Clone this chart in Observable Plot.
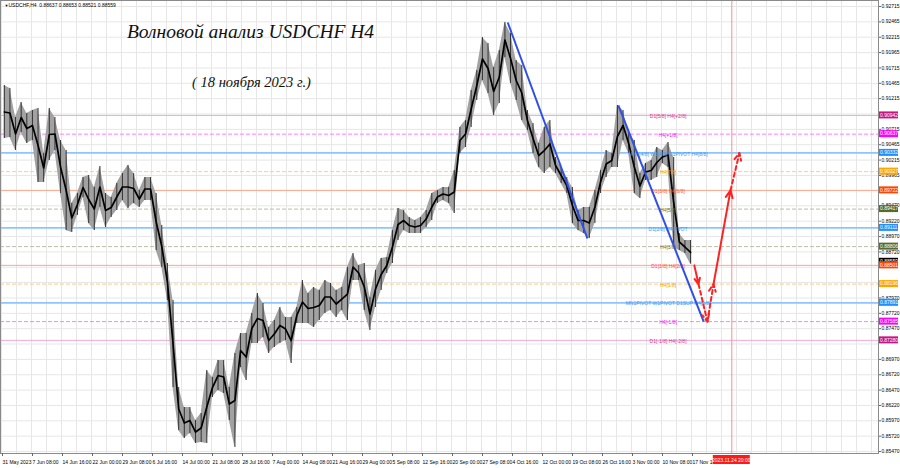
<!DOCTYPE html>
<html><head><meta charset="utf-8">
<script src="https://cdn.jsdelivr.net/npm/d3@7"></script>
<script src="https://cdn.jsdelivr.net/npm/@observablehq/plot@0.6"></script>
<style>body{margin:0;background:#fff}#chart svg{display:block}</style>
</head><body><div id="chart"></div>
<script>
// ---- daily high / low of USDCHF H4 (one entry per trading day from 31 May 2023) ----
const dayHigh = [
0.91429,0.91380,0.90908,0.91152,0.90973,0.91022,0.91055,0.90322,0.91055,0.90908,
0.90534,0.90371,0.89508,0.89671,0.89931,0.89964,0.89769,0.90110,0.89671,0.89606,
0.89834,0.89996,0.90127,0.89996,0.89720,0.89931,0.89931,0.89671,0.89150,0.88531,
0.87929,0.86512,0.86187,0.86187,0.85975,0.86089,0.86789,0.86675,0.86952,0.86952,
0.86512,0.87066,0.87391,0.87391,0.87717,0.88043,0.87880,0.87489,0.87603,0.87815,
0.87652,0.87652,0.87815,0.88254,0.88043,0.88140,0.88092,0.88254,0.88206,0.88092,
0.88140,0.88466,0.88694,0.88499,0.88531,0.87978,0.88417,0.88613,0.88629,0.89068,
0.89427,0.89394,0.89280,0.89231,0.89280,0.89394,0.89671,0.89720,0.89769,0.89769,
0.90045,0.90745,0.90859,0.91348,0.91673,0.92211,0.92113,0.91722,0.91999,0.92455,
0.92276,0.91836,0.91755,0.91022,0.90810,0.90485,0.90745,0.90859,0.90257,0.90094,
0.89931,0.89769,0.89394,0.89443,0.89443,0.89720,0.90045,0.90371,0.90322,0.91104,
0.91022,0.90648,0.90534,0.89996,0.90159,0.90208,0.90420,0.90371,0.90501,0.90257,
0.89020,0.88906,0.88906];
const dayLow = [
0.90566,0.90583,0.90371,0.90664,0.90485,0.90534,0.89850,0.89850,0.90208,0.90371,
0.89671,0.89068,0.89036,0.89313,0.89606,0.89182,0.89068,0.89443,0.89117,0.89280,
0.89394,0.89557,0.89427,0.89508,0.89443,0.89557,0.89557,0.88743,0.88466,0.87929,
0.86512,0.85812,0.85682,0.85763,0.85601,0.85617,0.85601,0.86349,0.86463,0.86415,
0.85975,0.85535,0.86838,0.86626,0.87229,0.87229,0.87326,0.87066,0.87163,0.87229,
0.87277,0.86903,0.87554,0.87554,0.87554,0.87489,0.87603,0.87717,0.87766,0.87652,
0.87766,0.87603,0.88254,0.88254,0.87766,0.87440,0.87815,0.88092,0.88368,0.88531,
0.88906,0.89068,0.89020,0.89020,0.89020,0.89117,0.89231,0.89508,0.89557,0.89508,
0.89345,0.90322,0.90420,0.90745,0.91185,0.91511,0.91299,0.90941,0.91136,0.91885,
0.91462,0.91185,0.90859,0.90697,0.90322,0.90094,0.89996,0.90094,0.89996,0.89834,
0.89671,0.89182,0.89068,0.89020,0.88938,0.89182,0.89671,0.89931,0.90094,0.90094,
0.90534,0.90322,0.89671,0.89589,0.89882,0.89882,0.89931,0.90159,0.90094,0.88792,
0.88743,0.88694,0.88521];
const barsPerDay = 6;

// ---- time axis (H4 bars) ----
const dateLabels = ["31 May 2023","7 Jun 08:00","14 Jun 16:00","22 Jun 00:00","29 Jun 08:00","6 Jul 16:00",
"14 Jul 00:00","21 Jul 08:00","28 Jul 16:00","7 Aug 00:00","14 Aug 08:00","21 Aug 16:00","29 Aug 00:00",
"5 Sep 08:00","12 Sep 16:00","20 Sep 00:00","27 Sep 08:00","4 Oct 16:00","12 Oct 00:00","19 Oct 08:00",
"26 Oct 16:00","3 Nov 00:00","10 Nov 08:00","17 Nov 16:00"];
const barsPerLabel = 32;
const cursorBar = 779;
const cursorLabel = "2023.11.24 20:00";

// ---- price axis ----
const priceTicks = [0.92715,0.92465,0.92215,0.91965,0.91715,0.91465,0.91215,0.90965,0.90715,0.90465,
0.90215,0.89965,0.89720,0.89470,0.89220,0.88970,0.88720,0.88470,0.88220,0.87970,0.87720,0.87470,
0.87220,0.86970,0.86720,0.86470,0.86220,0.85970,0.85720,0.85470];
const coveredTicks = [0.90965, 0.89720, 0.88470, 0.88220, 0.87220];   // hidden behind price boxes
const lastPrice = 0.88559;
const headerText = "USDCHF,H4  0.88637 0.88653 0.88521 0.88559";

// ---- Murrey / pivot levels ----
const levelPrices = [0.90942,0.90637,0.90332,0.90027,0.89722,0.89417,0.89111,0.88806,0.88501,0.88196,0.87891,0.87585,0.87280];
const levelNames = ["D1[5/8] H4[+2/8]","H4[+1/8]","MN1[4/8] W1[4/8] D1PIVOT H4[8/8]","H4[7/8]","D1[3/8] H4[6/8]",
"H4[5/8]","D1[2/8] H4PIVOT","H4[3/8]","D1[1/8] H4[2/8]","H4[1/8]","MN1PIVOT W1PIVOT D1SUP H4[0/8]","H4[-1/8]","D1[-1/8] H4[-2/8]"];
const levelKinds = ["pink","magenta","blue","orange","red","olive","blue","olive","red","orange","blue","magenta","pink"];

// ---- wave trend lines ----
const trendStartBar = [540, 658];
const trendStartPrice = [0.92455, 0.91104];
const trendEndBar = [625, 749];
const trendEndPrice = [0.88938, 0.87585];

// ---- forecast path ----
const forecastBars = [739, 743.5, 753, 759.5, 777.6, 787.2];
const forecastPrices = [0.88501, 0.88196, 0.87585, 0.88196, 0.89722, 0.90332];
const forecastDashed = [false, true, true, false, true];

// ---- title ----
const titleText = "Волновой анализ USDCHF H4";
const subtitleText = "( 18 ноября 2023 г.)";

// ================= build =================
const styles = {
  pink:    {line:"#f2a8d4", text:"#d0368f", box:"#c71585", dash:null,  w:1},
  magenta: {line:"#ff7dff", text:"#f020f0", box:"#ff00ff", dash:"4,2", w:1},
  blue:    {line:"#8ec5ff", text:"#3b98f5", box:"#1e90ff", dash:null,  w:1.6},
  orange:  {line:"#ffcb8c", text:"#ff9a00", box:"#ffa500", dash:"4,2", w:1},
  red:     {line:"#ffa688", text:"#ff5a1f", box:"#ff4500", dash:null,  w:1},
  olive:   {line:"#bdbda4", text:"#6b7a3a", box:"#556b2f", dash:"4,2", w:1}
};
const days = dayHigh.map((h, i) => ({bar: i * barsPerDay + barsPerDay / 2, high: h, low: dayLow[i]}));
const levels = levelPrices.map((p, i) => ({price: p, name: levelNames[i], kind: levelKinds[i]}));
const trends = trendStartBar.map((b, i) => ({x1: b, y1: trendStartPrice[i], x2: trendEndBar[i], y2: trendEndPrice[i]}));
const segs = forecastDashed.map((d, i) => ({x1: forecastBars[i], y1: forecastPrices[i], x2: forecastBars[i+1], y2: forecastPrices[i+1], dashed: d}));
const labelBars = dateLabels.map((_, i) => i * barsPerLabel);
const gridBars = d3.range(0, 940, barsPerLabel / 2);
const visibleTicks = priceTicks.filter(t => !coveredTicks.includes(t));
const labelBar = 711;
const FONT = "Liberation Sans, Arial, sans-serif";
const SERIF = "Liberation Serif, DejaVu Serif, serif";

const levelMarks = [];
const levelTextMarks = [];
for (const k of Object.keys(styles)) {
  const s = styles[k];
  const data = levels.filter(l => l.kind === k);
  levelMarks.push(Plot.ruleY(data, {y: "price", stroke: s.line, strokeWidth: s.w, strokeDasharray: s.dash || undefined}));
  levelTextMarks.push(Plot.text(data, {x: () => labelBar, y: "price", text: "name", fill: s.text, fontSize: 5, dy: 1}));
}

const chart = Plot.plot({
  width: 900, height: 468,
  marginTop: 0, marginLeft: 0, marginRight: 22, marginBottom: 15,
  x: {domain: [-1.0667, 935.47], axis: null},
  y: {domain: [0.85438, 0.92813], axis: null},
  style: {fontFamily: FONT, fontSize: "5px", background: "#fff", color: "#000"},
  marks: [
    Plot.gridX(gridBars, {stroke: "#e6e6e6", strokeOpacity: 1}),
    Plot.gridY(priceTicks, {stroke: "#e6e6e6", strokeOpacity: 1}),
    ...levelMarks,
    Plot.ruleX([cursorBar], {stroke: "#ff8c8c", strokeWidth: 1}),
    Plot.areaY(days, {x: "bar", y1: "low", y2: "high", fill: "#a2a2a2", curve: "linear"}),
    Plot.ruleX(days, {x: "bar", y1: "low", y2: "high", stroke: "#333", strokeWidth: 1}),
    Plot.line(days, {x: "bar", y: d => (d.high + d.low) / 2, stroke: "#000", strokeWidth: 1.7}),
    ...levelTextMarks,
    Plot.link(trends, {x1: "x1", y1: "y1", x2: "x2", y2: "y2", stroke: "#2f4fe6", strokeWidth: 2}),
    Plot.arrow(segs.filter(s => !s.dashed), {x1: "x1", y1: "y1", x2: "x2", y2: "y2", stroke: "#ff2222", strokeWidth: 2, headLength: 6, headAngle: 50}),
    Plot.arrow(segs.filter(s => s.dashed), {x1: "x1", y1: "y1", x2: "x2", y2: "y2", stroke: "#ff2222", strokeWidth: 2, headLength: 6, headAngle: 50, strokeDasharray: "4,3"}),
    Plot.text([titleText], {frameAnchor: "top-left", lineAnchor: "middle", dx: 250, dy: 31, textAnchor: "middle", fontSize: 19.5, fontStyle: "italic", fontFamily: SERIF, fill: "#111"}),
    Plot.text([subtitleText], {frameAnchor: "top-left", lineAnchor: "middle", dx: 251, dy: 82, textAnchor: "middle", fontSize: 14.5, fontStyle: "italic", fontFamily: SERIF, fill: "#111"}),
    Plot.text(["▼"], {frameAnchor: "top-left", lineAnchor: "middle", dx: 4, dy: 5, fontSize: 4, fill: "#000"}),
    Plot.text([headerText], {frameAnchor: "top-left", lineAnchor: "middle", dx: 8, dy: 5, textAnchor: "start", fontSize: 5, fill: "#000"}),
    Plot.frame({stroke: "#8a8a8a"}),
    Plot.axisY(visibleTicks, {anchor: "right", tickFormat: d => d.toFixed(5), tickSize: 2, tickPadding: 1, fontSize: 5, stroke: "#666"}),
    Plot.axisX(labelBars, {anchor: "bottom", tickFormat: d => dateLabels[Math.round(d / barsPerLabel)], textAnchor: "start", tickSize: 3, tickPadding: 4, dx: 1, fontSize: 5, stroke: "#666"})
  ]
});
document.getElementById("chart").appendChild(chart);

// price boxes on the right axis and the time-cursor box, positioned with the plot's own scales
const sx = chart.scale("x"), sy = chart.scale("y");
const svg = d3.select(chart);
const g = svg.append("g").attr("font-family", FONT).attr("font-size", 5).attr("text-anchor", "start");
const xAxisEdge = sx.range[1];
const boxes = [{price: lastPrice, color: "#000"}].concat(levels.map(l => ({price: l.price, color: styles[l.kind].box})));
for (const b of boxes) {
  const y = sy.apply(b.price);
  g.append("rect").attr("x", xAxisEdge + 1).attr("y", y - 3.5).attr("width", 19).attr("height", 7).attr("fill", b.color);
  g.append("text").attr("x", xAxisEdge + 2).attr("y", y + 1.8).attr("fill", "#fff").text(b.price.toFixed(5));
}
const cx = sx.apply(cursorBar);
const yBottom = sy.range[0];
g.append("rect").attr("x", cx - 18.5).attr("y", yBottom + 2).attr("width", 37).attr("height", 9).attr("fill", "#ff1a1a");
g.append("text").attr("x", cx).attr("y", yBottom + 8.5).attr("text-anchor", "middle").attr("fill", "#fff").text(cursorLabel);
</script>
</body></html>
